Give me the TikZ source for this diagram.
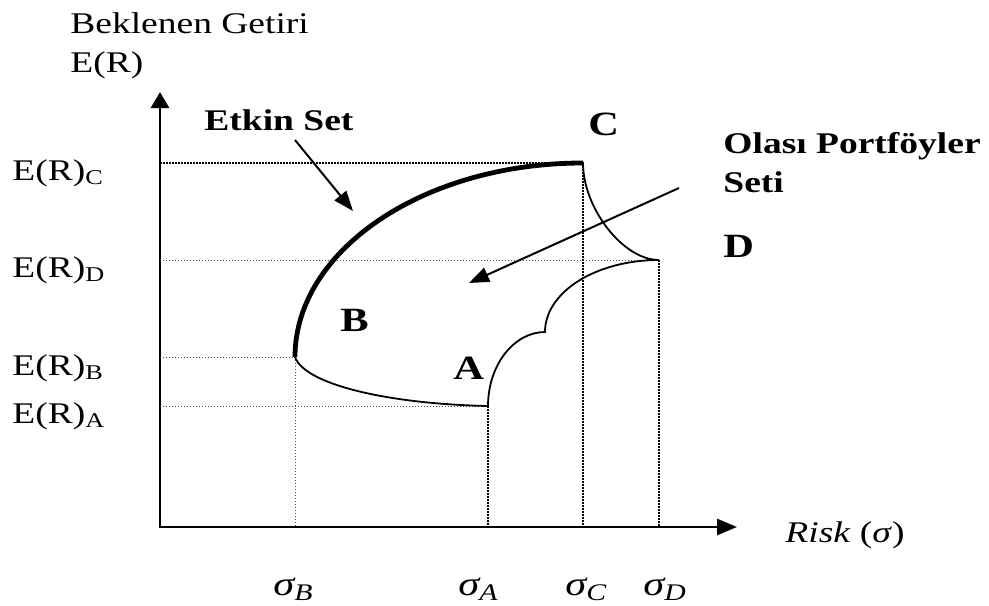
\documentclass[tikz,border=0pt]{standalone}
\usepackage{fontspec}
\setmainfont{Liberation Serif}[FakeStretch=1.25]
\usetikzlibrary{arrows.meta, positioning}

\begin{document}
\begin{tikzpicture}[x=0.5pt, y=-0.5pt, >={Triangle[length=10pt,width=7.5pt]},
    axis/.style={line width=1.4pt},
    frontier/.style={line width=2.4pt},
    border/.style={line width=0.9pt},
    guide/.style={dash pattern=on 0.5pt off 1pt, line width=0.5pt, black!70},
    guide dense/.style={dash pattern=on 0.8pt off 0.7pt, line width=0.9pt},
    pointer/.style={line width=1pt, ->},
    lbl/.style={inner sep=0pt, anchor=base west, font=\fontsize{15}{19.5}\selectfont},
    point/.style={inner sep=0pt, anchor=base west, font=\fontsize{17}{20}\selectfont\bfseries},
    sig/.style={inner sep=0pt, anchor=base west, font=\fontsize{17}{20}\selectfont\itshape}]

    \useasboundingbox (0,0) rectangle (989,605);

    \coordinate (O) at (160,527);
    \coordinate (ytip) at (160,92);
    \coordinate (xtip) at (737,527);
    \coordinate (A) at (488,406);
    \coordinate (B) at (295,357);
    \coordinate (C) at (583,163);
    \coordinate (D) at (659,260);
    \coordinate (K) at (545,332);

    \draw[axis, {Triangle[length=8pt,width=9pt]}-{Triangle[length=10pt,width=8pt]}] (ytip) -- (O) -- (xtip);

    \draw[guide dense] (O |- C) -- (C) -- (C |- O);
    \draw[guide] (O |- D) -- (D);
    \draw[guide dense] (D) -- (D |- O);
    \draw[guide] (O |- B) -- (B) -- (B |- O);
    \draw[guide] (O |- A) -- (A);
    \draw[guide dense] (A) -- (A |- O);

    \draw[frontier] (B) .. controls (295,250) and (424,163) .. (C);
    \draw[border] (C) .. controls (583,208) and (623,260) .. (D)
        .. controls (596,260) and (545,292) .. (K)
        .. controls (514,332) and (488,365) .. (A)
        .. controls (390,404) and (305,385) .. (B);

    \node[lbl, align=left] (ylab) at (70,72) {Beklenen Getiri\\E(R)};
    \node[lbl] (erC) at (12,180) {E(R)\textsubscript{C}};
    \node[lbl] (erD) at (12,277) {E(R)\textsubscript{D}};
    \node[lbl] (erB) at (12,375) {E(R)\textsubscript{B}};
    \node[lbl] (erA) at (12,423) {E(R)\textsubscript{A}};

    \node[sig] (sB) at (273,595) {σ\textsubscript{B}};
    \node[sig] (sA) at (458,595) {σ\textsubscript{A}};
    \node[sig] (sC) at (565,595) {σ\textsubscript{C}};
    \node[sig] (sD) at (643,595) {σ\textsubscript{D}};
    \node[lbl] (xlab) at (785,542) {\textit{Risk} (\textit{σ})};

    \node[point] (pA) at (453,379) {A};
    \node[point] (pB) at (340,331) {B};
    \node[point] (pC) at (588,135) {C};
    \node[point] (pD) at (723,257) {D};

    \node[lbl, font=\fontsize{15}{19.5}\selectfont\bfseries] (etkin) at (204,130) {Etkin Set};
    \node[lbl, align=left, font=\fontsize{15}{19.5}\selectfont\bfseries] (olasi) at (723,192) {Olası Portföyler\\Seti};

    \coordinate (etkinFrom) at (295,140);
    \coordinate (etkinTo) at (353,211);
    \coordinate (olasiFrom) at (679,188);
    \coordinate (olasiTo) at (469,283);
    \draw[pointer] (etkinFrom) -- (etkinTo);
    \draw[pointer] (olasiFrom) -- (olasiTo);

\end{tikzpicture}
\end{document}
